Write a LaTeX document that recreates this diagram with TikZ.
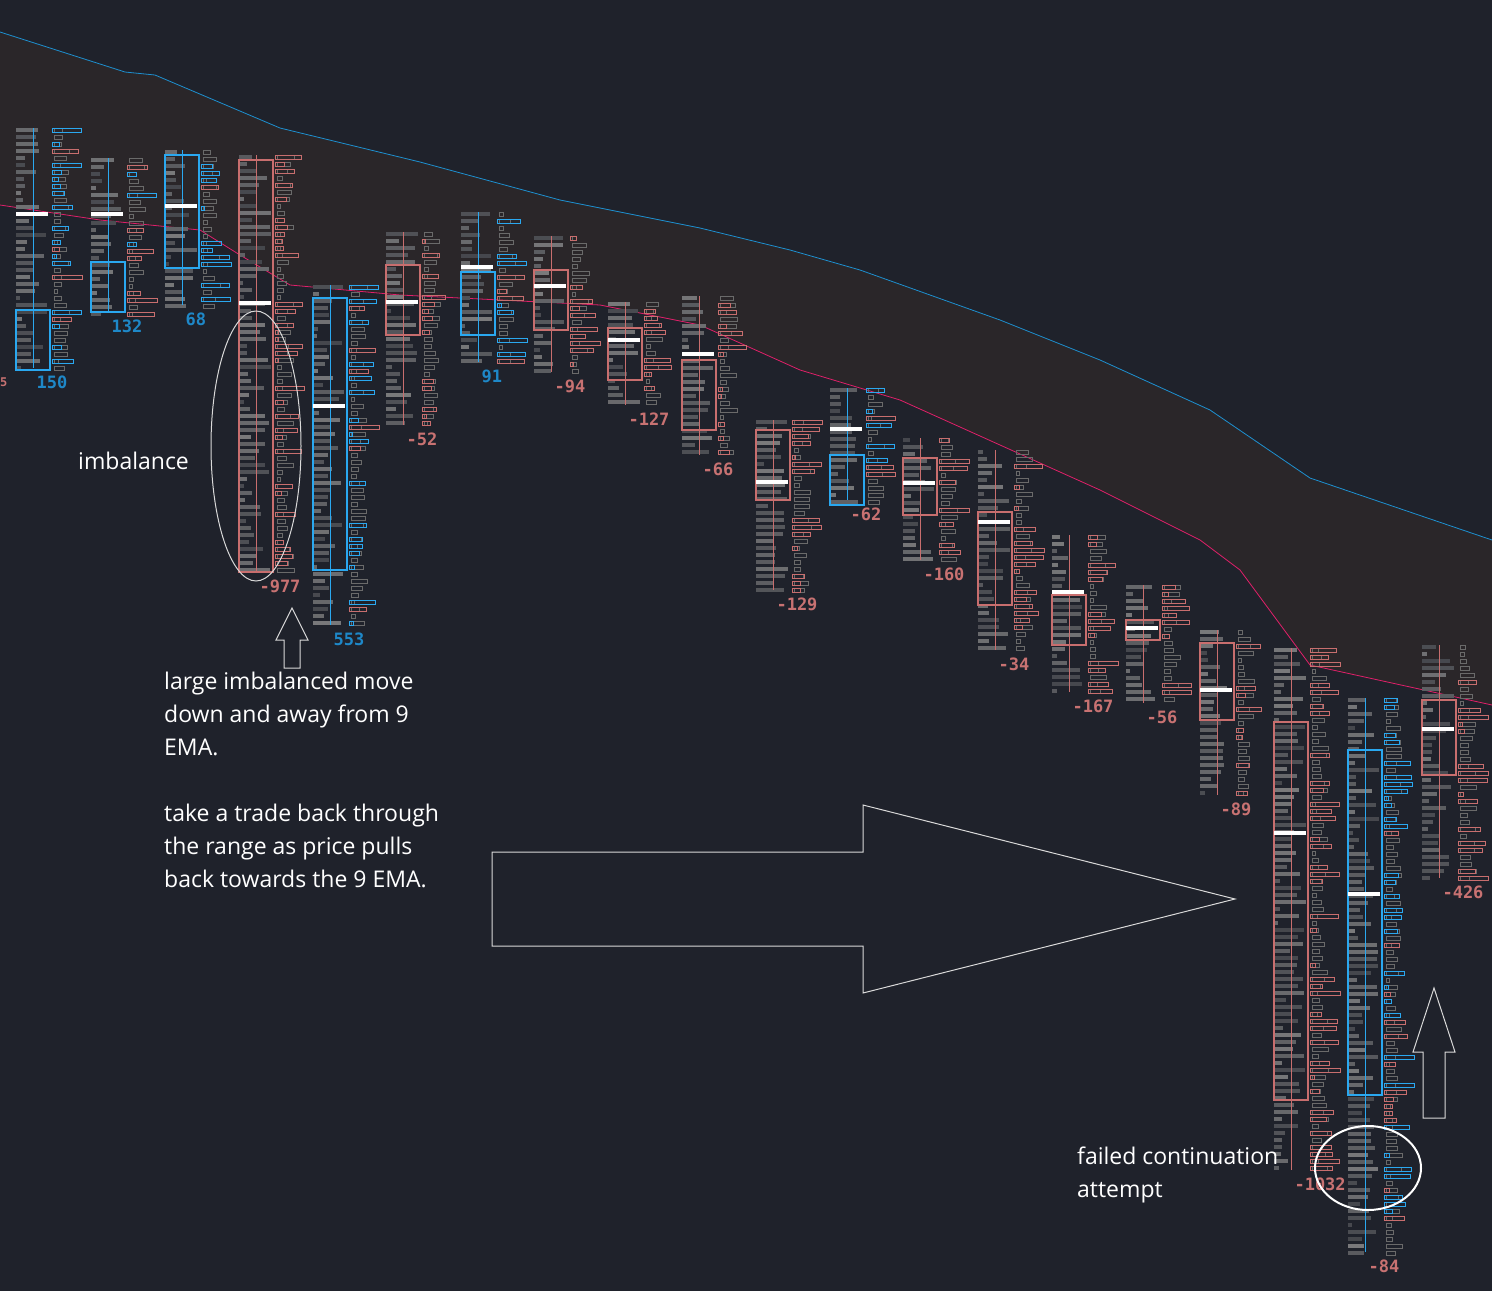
\documentclass[tikz,border=0pt]{standalone}
\usepackage{fontspec}
\setmainfont{Open Sans}
\newfontfamily\monof{DejaVu Sans Mono}
\definecolor{bg}{HTML}{1F222B}
\definecolor{band}{HTML}{2A2629}
\definecolor{ema}{HTML}{1E90D0}
\definecolor{mag}{HTML}{E0206A}
\definecolor{cblue}{HTML}{2AA8F0}
\definecolor{cred}{HTML}{C86E6E}
\definecolor{lblue}{HTML}{1E88C8}
\definecolor{lred}{HTML}{C87272}
\definecolor{vgrey}{HTML}{8A8A8A}
\definecolor{ogrey}{HTML}{6A6A6A}
\tikzset{
  lbl/.style={font=\monof\bfseries\fontsize{17}{17}\selectfont},
  note/.style={text=white,font=\fontsize{23}{33}\selectfont,align=left,anchor=north west,inner sep=0pt},
  shape outline/.style={draw=white!85!black,line width=1pt},
}
\newcommand{\mycandle}[8]{%
  \pgfmathtruncatemacro\nxt{#4+7}
  \foreach \yy in {#4,\nxt,...,#5}{
    \pgfmathsetmacro\wa{4+28*rnd}
    \pgfmathsetmacro\wb{3+28*rnd}
    \pgfmathsetmacro\wc{3+14*rnd}
    \pgfmathsetmacro\gl{35+50*rnd}
    \pgfmathsetmacro\pr{rnd}
    \fill[vgrey!\gl!bg] (#1-17,\yy) rectangle ++(\wa,4);
    \draw[ogrey,line width=0.6pt] (#1+21,\yy) rectangle ++(\wc,4);
    \ifdim\pr pt<0.35pt
      \draw[#6,line width=1pt] (#1+19,\yy) rectangle ++(\wb,4);
    \else\ifdim\pr pt<0.5pt
      \draw[cred,line width=1pt] (#1+19,\yy) rectangle ++(\wb,4);
    \fi\fi
  }
  \draw[#6,line width=1pt] (#1,#4) -- (#1,#5);
  \draw[#6,line width=1.2pt] (#1-17,#2) rectangle (#1+17,#3);
  \pgfmathsetmacro\poc{#4+0.35*(#5-#4)}
  \fill[white] (#1-17,\poc) rectangle ++(32,4);
  \node[lbl,text=#8,anchor=north west] (l#1) at (#1+0,#5+4) {#7};
}
\begin{document}
\begin{tikzpicture}[x=1pt,y=-1pt]
\useasboundingbox (0,0) rectangle (1492,1291);
\fill[bg] (0,0) rectangle (1492,1291);
\fill[band] (0,32) -- (125,72) -- (155,75) -- (280,128) -- (420,162) -- (560,200) -- (700,228) -- (790,250) -- (860,270) -- (1000,320) -- (1100,360) -- (1210,410) -- (1310,478) -- (1492,540)
 -- (1492,705) -- (1310,665) -- (1240,570) -- (1200,540) -- (1100,490) -- (1000,445) -- (900,400) -- (800,370) -- (700,325) -- (600,305) -- (400,295) -- (290,285) -- (240,255) -- (200,230) -- (100,220) -- (0,205) -- cycle;
\draw[ema,line width=0.8pt] (0,32) -- (125,72) -- (155,75) -- (280,128) -- (420,162) -- (560,200) -- (700,228) -- (790,250) -- (860,270) -- (1000,320) -- (1100,360) -- (1210,410) -- (1310,478) -- (1492,540);
\draw[mag,line width=0.8pt] (0,205) -- (100,220) -- (200,230) -- (240,255) -- (290,285) -- (400,295) -- (600,305) -- (700,325) -- (800,370) -- (900,400) -- (1000,445) -- (1100,490) -- (1200,540) -- (1240,570) -- (1310,665) -- (1492,705);
\pgfmathsetseed{11}
\mycandle{33}{310}{370}{128}{368}{cblue}{150}{lblue}
\mycandle{108}{262}{312}{158}{312}{cblue}{132}{lblue}
\mycandle{182}{155}{268}{150}{305}{cblue}{68}{lblue}
\mycandle{256}{160}{572}{155}{572}{cred}{-977}{lred}
\mycandle{330}{298}{570}{285}{625}{cblue}{553}{lblue}
\mycandle{403}{265}{335}{232}{425}{cred}{-52}{lred}
\mycandle{478}{272}{335}{212}{362}{cblue}{91}{lblue}
\mycandle{551}{270}{330}{236}{372}{cred}{-94}{lred}
\mycandle{625}{328}{380}{302}{405}{cred}{-127}{lred}
\mycandle{699}{360}{430}{296}{455}{cred}{-66}{lred}
\mycandle{773}{430}{500}{420}{590}{cred}{-129}{lred}
\mycandle{847}{455}{505}{388}{500}{cblue}{-62}{lred}
\mycandle{920}{458}{515}{438}{560}{cred}{-160}{lred}
\mycandle{995}{512}{605}{450}{650}{cred}{-34}{lred}
\mycandle{1069}{595}{645}{535}{692}{cred}{-167}{lred}
\mycandle{1143}{620}{640}{585}{703}{cred}{-56}{lred}
\mycandle{1217}{643}{720}{630}{795}{cred}{-89}{lred}
\mycandle{1291}{722}{1100}{648}{1170}{cred}{-1032}{lred}
\mycandle{1365}{750}{1095}{698}{1252}{cblue}{-84}{lred}
\mycandle{1439}{700}{775}{645}{878}{cred}{-426}{lred}
\node[lbl,text=lred,anchor=north west,inner sep=0pt,font=\monof\bfseries\fontsize{12}{12}\selectfont] (lp) at (0,378) {5};
\draw[white!85!black,line width=1pt] (256,446) ellipse [x radius=45,y radius=135];
\node[note] (t1) at (78,452) {imbalance};
\draw[shape outline] (284,668) -- (284,640) -- (276,640) -- (292,608) -- (308,640) -- (300,640) -- (300,668) -- cycle;
\node[note] (t2) at (164,672) {large imbalanced move\\down and away from 9\\EMA.\\[33pt]take a trade back through\\the range as price pulls\\back towards the 9 EMA.};
\draw[shape outline] (492,852) -- (863,852) -- (863,805) -- (1235,899) -- (863,993) -- (863,946) -- (492,946) -- cycle;
\draw[shape outline] (1423,1118) -- (1423,1052) -- (1413,1052) -- (1434,988) -- (1455,1052) -- (1445,1052) -- (1445,1118) -- cycle;
\draw[white,line width=2pt] (1368,1168) ellipse [x radius=53,y radius=42];
\node[note] (t3) at (1077,1147) {failed continuation\\attempt};
\end{tikzpicture}
\end{document}
